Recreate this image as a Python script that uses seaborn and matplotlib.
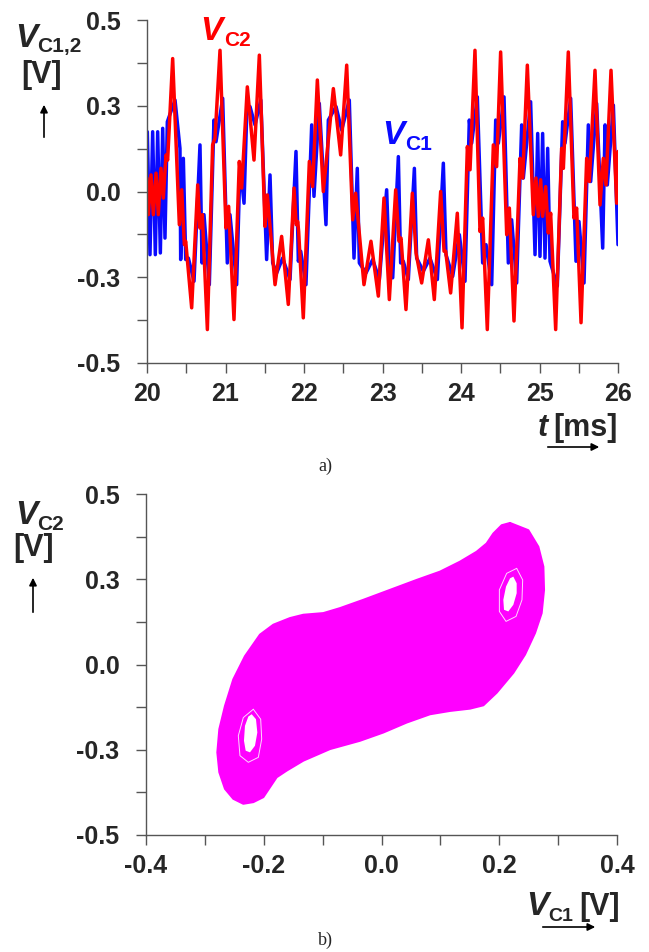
import matplotlib
matplotlib.use("Agg")
import matplotlib.pyplot as plt
import pandas as pd
import seaborn as sns

# ---------------- data ----------------
# a) time series  (t in ms, value in internal axis units; axis labels "0.5" sit at 0.6)
c1_points = [
    (20.004, 0.209), (20.038, -0.221), (20.072, 0.209), (20.106, -0.221), (20.136, 0.209),
    (20.170, -0.215), (20.200, 0.221), (20.229, -0.163), (20.259, 0.244), (20.357, 0.320),
    (20.420, 0.151), (20.429, -0.238), (20.463, 0.116), (20.493, -0.238), (20.527, -0.233),
    (20.599, -0.314), (20.675, 0.163), (20.701, -0.250), (20.726, -0.081), (20.794, -0.326),
    (20.853, 0.250), (20.879, 0.174), (20.964, 0.326), (21.023, -0.250), (21.057, -0.081),
    (21.142, -0.326), (21.185, 0.093), (21.236, -0.041), (21.270, 0.267), (21.312, 0.297),
    (21.376, 0.233), (21.450, 0.320),
    (21.524, -0.238), (21.567, 0.058), (21.601, -0.250), (21.652, -0.285), (21.728, -0.233),
    (21.822, -0.308), (21.898, 0.140), (21.928, -0.244), (21.958, -0.209), (22.025, -0.326),
    (22.098, 0.233), (22.127, -0.017), (22.195, 0.308), (22.280, -0.116), (22.310, 0.250),
    (22.408, 0.297), (22.480, 0.215), (22.577, 0.320), (22.637, -0.233), (22.679, 0.081),
    (22.705, -0.250), (22.790, -0.285), (22.875, -0.238), (22.960, -0.308),
    (23.053, 0.006), (23.087, -0.267), (23.130, -0.302), (23.202, 0.122), (23.231, -0.250),
    (23.265, -0.244), (23.329, -0.308), (23.406, 0.081), (23.435, -0.233), (23.520, -0.279),
    (23.605, -0.233), (23.699, -0.308), (23.775, 0.099), (23.809, -0.221), (23.894, -0.297),
    (23.979, -0.151), (24.051, -0.314), (24.106, 0.250), (24.136, 0.169), (24.208, 0.331),
    (24.276, -0.250), (24.319, -0.186), (24.391, -0.326), (24.442, 0.250), (24.476, 0.169),
    (24.548, 0.331),
    (24.603, -0.250), (24.645, -0.099), (24.709, -0.320), (24.773, 0.233), (24.794, 0.047),
    (24.887, 0.314), (24.943, -0.221), (24.977, 0.203), (25.006, -0.227), (25.040, 0.203),
    (25.070, -0.233), (25.104, 0.151), (25.134, -0.244), (25.227, -0.331), (25.295, 0.244),
    (25.325, 0.169), (25.397, 0.326), (25.465, -0.244), (25.503, -0.105), (25.567, -0.320),
    (25.622, 0.233), (25.652, 0.035), (25.728, 0.308), (25.805, -0.198), (25.835, 0.233),
    (25.864, 0.023), (25.941, 0.302), (26.000, -0.186),
]
c2_points = [
    (20.000, 0.047), (20.017, -0.081), (20.051, 0.058), (20.081, -0.081), (20.115, 0.064),
    (20.144, -0.081), (20.178, 0.081), (20.208, -0.023), (20.242, 0.128), (20.263, 0.110),
    (20.327, 0.465), (20.412, -0.116), (20.442, 0.006), (20.476, -0.186), (20.493, -0.174),
    (20.569, -0.407), (20.646, 0.023), (20.675, -0.128), (20.705, -0.081), (20.769, -0.483),
    (20.836, 0.163), (20.866, 0.186), (20.930, 0.494), (21.006, -0.128), (21.040, -0.052),
    (21.108, -0.448), (21.176, 0.105), (21.206, 0.012), (21.278, 0.366), (21.363, 0.110),
    (21.431, 0.477),
    (21.503, -0.122), (21.533, -0.012), (21.631, -0.326), (21.715, -0.157), (21.800, -0.395),
    (21.873, 0.012), (21.900, -0.116), (21.920, -0.105), (21.932, -0.140), (21.991, -0.442),
    (22.068, 0.105), (22.110, 0.017), (22.170, 0.390), (22.246, 0.000), (22.374, 0.360),
    (22.467, 0.128), (22.544, 0.442), (22.620, -0.099), (22.658, -0.006), (22.764, -0.326),
    (22.853, -0.174), (22.947, -0.366),
    (23.019, -0.023), (23.087, -0.378), (23.168, 0.006), (23.210, -0.174), (23.236, -0.163),
    (23.299, -0.413), (23.380, -0.006), (23.427, -0.215), (23.499, -0.320), (23.584, -0.169),
    (23.660, -0.378), (23.741, 0.000), (23.784, -0.209), (23.805, -0.209), (23.868, -0.355),
    (23.953, -0.076), (24.013, -0.477), (24.081, 0.157), (24.115, 0.076), (24.178, 0.494),
    (24.242, -0.140), (24.276, -0.093), (24.335, -0.483), (24.412, 0.163), (24.454, 0.087),
    (24.505, 0.488),
    (24.582, -0.151), (24.616, -0.058), (24.675, -0.453), (24.752, 0.116), (24.786, 0.047),
    (24.845, 0.442), (24.921, -0.081), (24.955, 0.047), (24.985, -0.087), (25.015, 0.041),
    (25.040, -0.087), (25.079, 0.017), (25.112, -0.145), (25.142, -0.076), (25.206, -0.483),
    (25.282, 0.151), (25.304, 0.081), (25.367, 0.488), (25.439, -0.093), (25.473, -0.058),
    (25.529, -0.459), (25.601, 0.116), (25.635, 0.035), (25.707, 0.424), (25.771, -0.047),
    (25.813, 0.116), (25.847, 0.023), (25.911, 0.424), (25.983, -0.041), (26.000, 0.140),
]

# b) phase portrait: outline of the dense trajectory band, its two holes and the faint rings round them
attractor_outline = [
    (0.2183, 0.498), (0.2494, 0.4725), (0.2664, 0.4142), (0.2749, 0.3442), (0.2760, 0.2625),
    (0.2720, 0.1808), (0.2607, 0.1108), (0.2437, 0.035), (0.2239, -0.0292), (0.1956, -0.0992),
    (0.1730, -0.1435), (0.1503, -0.1552), (0.1163, -0.1633), (0.0824, -0.1750), (0.0427, -0.2042),
    (0.0031, -0.2392), (-0.0365, -0.2683), (-0.0875, -0.2975), (-0.1328, -0.3383), (-0.1611, -0.3733),
    (-0.1781, -0.3967), (-0.1894, -0.4317), (-0.2007, -0.4667), (-0.2177, -0.4842), (-0.2347, -0.4900),
    (-0.2517, -0.4725), (-0.2658, -0.4375), (-0.2754, -0.3792), (-0.2788, -0.3092), (-0.2754, -0.2275),
    (-0.2658, -0.1458), (-0.2517, -0.0525), (-0.2319, 0.0292), (-0.2064, 0.1050), (-0.1837, 0.1400),
    (-0.1554, 0.1633), (-0.1328, 0.1750), (-0.0988, 0.1808), (-0.0705, 0.1983), (-0.0309, 0.2275),
    (0.0144, 0.2625), (0.0597, 0.2975), (0.0994, 0.3267), (0.1333, 0.3617), (0.1616, 0.3967),
    (0.1786, 0.4258), (0.1900, 0.4608), (0.2041, 0.4900),
]
hole_right = [
    (0.2239, 0.3092), (0.2296, 0.2858), (0.2296, 0.2508), (0.2239, 0.2100), (0.2154, 0.1867),
    (0.2081, 0.1925), (0.2069, 0.2275), (0.2115, 0.2742), (0.2183, 0.3033),
]
hole_left = [
    (-0.2205, -0.1750), (-0.2132, -0.1925), (-0.2109, -0.2392), (-0.2149, -0.2858), (-0.2234, -0.3092),
    (-0.2307, -0.3033), (-0.2336, -0.2683), (-0.2319, -0.2158), (-0.2262, -0.1832),
]
ring_right = [
    (0.2296, 0.3383), (0.2398, 0.2975), (0.2386, 0.2275), (0.2285, 0.1692),
    (0.2115, 0.1517), (0.2002, 0.1867), (0.2002, 0.2625), (0.2126, 0.3208),
]
ring_left = [
    (-0.2177, -0.1575), (-0.2052, -0.1925), (-0.2035, -0.2625), (-0.2092, -0.3267),
    (-0.2262, -0.3442), (-0.2404, -0.3208), (-0.2432, -0.2508), (-0.2347, -0.1867),
]

# axis ticks and labels
t_ticks = [20, 20.5, 21, 21.5, 22, 22.5, 23, 23.5, 24, 24.5, 25, 25.5, 26]
t_labels = ["20", "", "21", "", "22", "", "23", "", "24", "", "25", "", "26"]
v_ticks = [-0.6, -0.45, -0.3, -0.15, 0.0, 0.15, 0.3, 0.45, 0.6]
v_labels = ["-0.5", "", "-0.3", "", "0.0", "", "0.3", "", "0.5"]
u_ticks = [-0.4, -0.3, -0.2, -0.1, 0.0, 0.1, 0.2, 0.3, 0.4]
u_labels = ["-0.4", "", "-0.2", "", "0.0", "", "0.2", "", "0.4"]

# ---------------- drawing ----------------
sns.set_style("ticks")
plt.rcParams['font.family'] = ['Liberation Sans', 'DejaVu Sans']

W, H = 649, 952
fig = plt.figure(figsize=(W / 100, H / 100), dpi=100)

def px_axes(left, top, right, bottom):
    return fig.add_axes([left / W, 1 - bottom / H, (right - left) / W, (bottom - top) / H])

ax1 = px_axes(147, 20, 618, 363)
ax2 = px_axes(146, 494, 617, 835)

BLUE = "#0a0aff"
RED = "#ff0000"
MAG = "#ff00ff"

df1 = pd.DataFrame(c1_points, columns=["t", "v"])
df2 = pd.DataFrame(c2_points, columns=["t", "v"])
sns.lineplot(data=df1, x="t", y="v", ax=ax1, color=BLUE, lw=2.5, sort=False, estimator=None,
             solid_joinstyle="round")
sns.lineplot(data=df2, x="t", y="v", ax=ax1, color=RED, lw=2.5, sort=False, estimator=None,
             solid_joinstyle="round")

ol = pd.DataFrame(attractor_outline + attractor_outline[:1], columns=["u", "w"])
ax2.fill(ol["u"], ol["w"], color=MAG, lw=0)
sns.lineplot(data=ol, x="u", y="w", ax=ax2, color=MAG, lw=1.5, sort=False, estimator=None)
for ring in (ring_right, ring_left):
    rd = pd.DataFrame(ring + ring[:1], columns=["u", "w"])
    sns.lineplot(data=rd, x="u", y="w", ax=ax2, color="white", lw=0.7, alpha=0.85,
                 sort=False, estimator=None)
for hole in (hole_right, hole_left):
    hd = pd.DataFrame(hole + hole[:1], columns=["u", "w"])
    ax2.fill(hd["u"], hd["w"], color="white", lw=0)

spine_col = "#555555"
for ax, xt, xl, xlim in ((ax1, t_ticks, t_labels, (20, 26)), (ax2, u_ticks, u_labels, (-0.4, 0.4))):
    ax.set_xlim(*xlim)
    ax.set_ylim(-0.6, 0.6)
    ax.set_xticks(xt)
    ax.set_xticklabels(xl)
    ax.set_yticks(v_ticks)
    ax.set_yticklabels(v_labels)
    ax.set_xlabel("")
    ax.set_ylabel("")
    sns.despine(ax=ax)
    for s in ("left", "bottom"):
        ax.spines[s].set_color(spine_col)
        ax.spines[s].set_linewidth(1.0)
    ax.tick_params(axis="both", direction="out", length=7, width=1.0, color=spine_col,
                   labelsize=18)
    ax.tick_params(axis="y", pad=12)
    ax.tick_params(axis="x", pad=7)
    for lab in ax.get_xticklabels() + ax.get_yticklabels():
        lab.set_fontweight("bold")
    ax.set_facecolor("white")

def ftxt(x, y, s, **kw):
    fig.text(x / W, 1 - y / H, s, **kw)

def arrow(x0, y0, x1, y1):
    fig.add_artist(matplotlib.patches.FancyArrowPatch(
        (x0 / W, 1 - y0 / H), (x1 / W, 1 - y1 / H), transform=fig.transFigure,
        arrowstyle='-|>', mutation_scale=11, lw=1.2, color='black'))

bi = dict(fontweight='bold', fontstyle='italic')
b = dict(fontweight='bold')

# top y label
ftxt(15, 47, "V", fontsize=24, ha='left', va='baseline', **bi)
ftxt(37, 52, "C1,2", fontsize=15, ha='left', va='baseline', **b)
ftxt(42, 75, "[V]", fontsize=22, ha='center', va='center', **b)
arrow(44, 140, 44, 102)
# series labels
ftxt(200, 40, "V", fontsize=24, ha='left', va='baseline', color=RED, **bi)
ftxt(224, 46, "C2", fontsize=15, ha='left', va='baseline', color=RED, **b)
ftxt(382, 144, "V", fontsize=24, ha='left', va='baseline', color=BLUE, **bi)
ftxt(405, 150, "C1", fontsize=15, ha='left', va='baseline', color=BLUE, **b)
# top x label
ftxt(538, 436, "t", fontsize=22, ha='left', va='baseline', **bi)
ftxt(553, 436, "[ms]", fontsize=22, ha='left', va='baseline', **b)
arrow(545, 447, 602, 447)
ftxt(325, 466, "a)", fontsize=13, ha='center', va='center', family=['Liberation Serif', 'DejaVu Serif'])

# bottom y label
ftxt(15, 524, "V", fontsize=24, ha='left', va='baseline', **bi)
ftxt(37, 530, "C2", fontsize=15, ha='left', va='baseline', **b)
ftxt(34, 548, "[V]", fontsize=22, ha='center', va='center', **b)
arrow(33, 615, 33, 575)
# bottom x label
ftxt(526, 915, "V", fontsize=24, ha='left', va='baseline', **bi)
ftxt(548, 921, "C1", fontsize=14, ha='left', va='baseline', **b)
ftxt(579, 915, "[V]", fontsize=22, ha='left', va='baseline', **b)
arrow(540, 927, 598, 927)
ftxt(325, 940, "b)", fontsize=13, ha='center', va='center', family=['Liberation Serif', 'DejaVu Serif'])

fig.savefig("out.png", dpi=100, facecolor="white")
